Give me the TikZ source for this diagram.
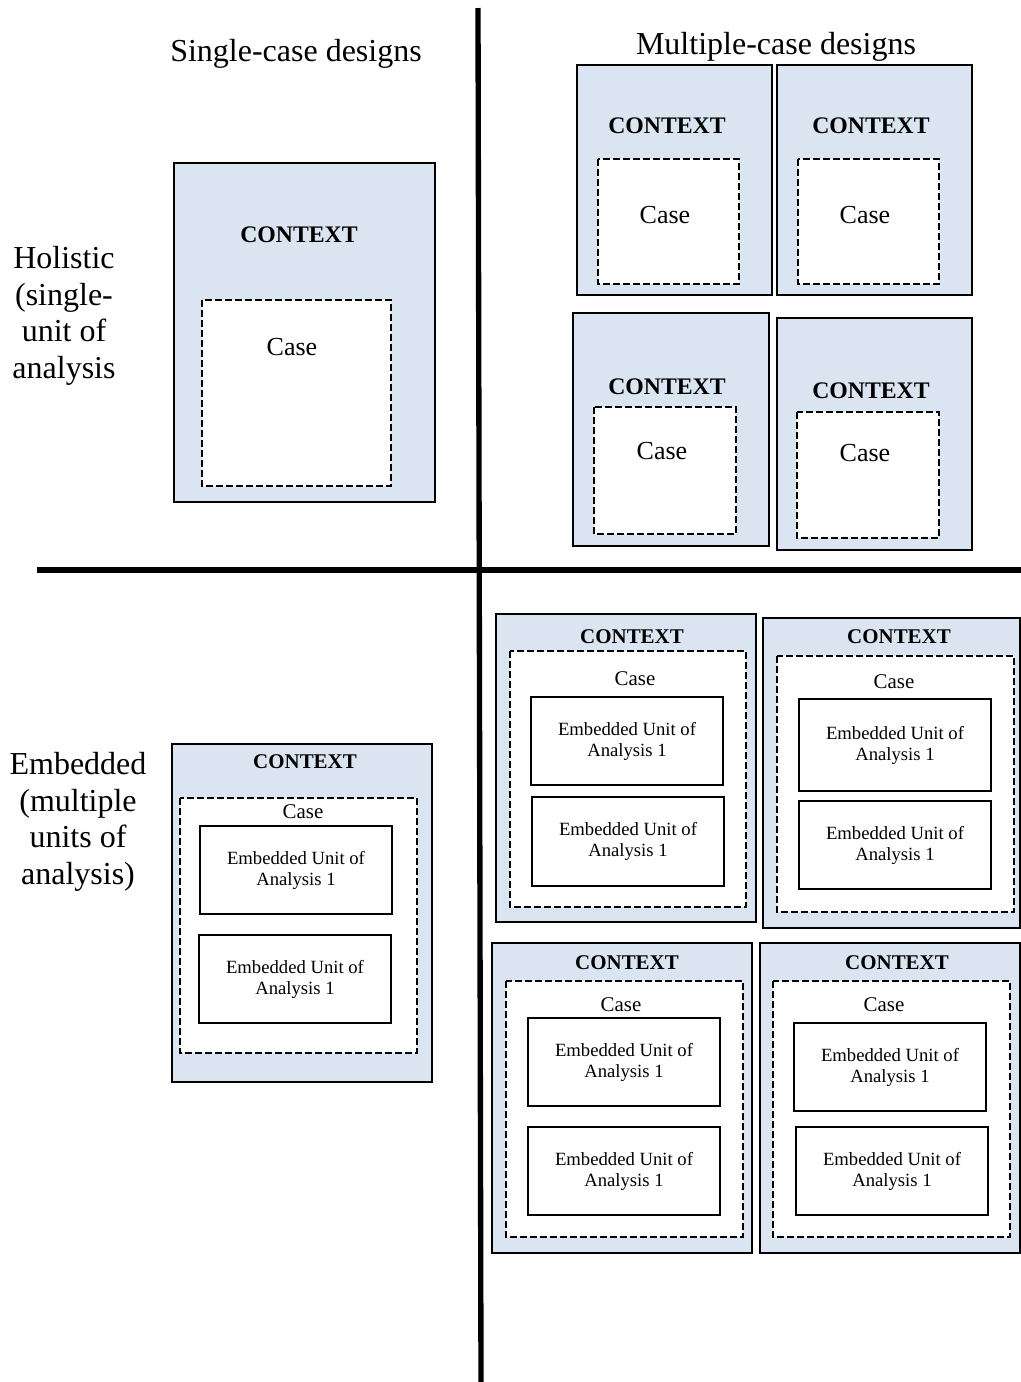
\documentclass[tikz,border=0pt]{standalone}
\usepackage{fontspec}
\setmainfont{Liberation Serif}
\definecolor{ctxblue}{HTML}{DBE5F1}

\begin{document}
\begin{tikzpicture}[x=0.75pt, y=-0.75pt,
    axis/.style={line width=4pt},
    ctxbox/.style={draw, line width=1.5pt, fill=ctxblue},
    casebox/.style={draw, line width=1.4pt, fill=white, dash pattern=on 5pt off 2.5pt},
    unitbox/.style={draw, line width=1.1pt, fill=white},
    header/.style={font=\fontsize{24}{28}\selectfont},
    rowlabel/.style={align=center, font=\fontsize{24}{27.5}\selectfont},
    ctxbig/.style={font=\fontsize{17.8}{20}\selectfont\bfseries},
    ctxsmall/.style={font=\fontsize{15.7}{18}\selectfont\bfseries},
    casebig/.style={font=\fontsize{19.5}{22}\selectfont},
    casesmall/.style={font=\fontsize{15.7}{18}\selectfont},
    unit/.style={align=center, font=\fontsize{14}{15.75}\selectfont}]
    \useasboundingbox (0,0) rectangle (1021,1382);

    % quadrant lines
    \coordinate (vtop) at (478,8);
    \coordinate (vbot) at (481,1382);
    \coordinate (hleft) at (37,570);
    \coordinate (hright) at (1021,570);
    \draw[axis] (vtop) -- (vbot);
    \draw[axis] (hleft) -- (hright);

    \node[header] (hdsingle) at (296,54) {Single-case designs};
    \node[header] (hdmulti) at (776,47) {Multiple-case designs};
    \node[rowlabel] (lblholistic) at (64,316) {Holistic\\(single-\\unit of\\analysis};
    \node[rowlabel] (lblembedded) at (78,822) {Embedded\\(multiple\\units of\\analysis)};

    % holistic, single case
    \draw[ctxbox] (174,163) rectangle (435,502);
    \draw[casebox] (202,300) rectangle (391,486);
    \node[ctxbig] (ctxhs) at (299,235) {CONTEXT};
    \node[casebig] (casehs) at (292,347) {Case};

    % holistic, multiple cases
    \draw[ctxbox] (577,65) rectangle (772,295);
    \draw[casebox] (598,159) rectangle (739,284);
    \node[ctxbig] (ctxhma) at (667,126) {CONTEXT};
    \node[casebig] (casehma) at (665,215) {Case};

    \draw[ctxbox] (777,65) rectangle (972,295);
    \draw[casebox] (798,159) rectangle (939,284);
    \node[ctxbig] (ctxhmb) at (871,126) {CONTEXT};
    \node[casebig] (casehmb) at (865,215) {Case};

    \draw[ctxbox] (573,313) rectangle (769,546);
    \draw[casebox] (594,407) rectangle (736,534);
    \node[ctxbig] (ctxhmc) at (667,387) {CONTEXT};
    \node[casebig] (casehmc) at (662,451) {Case};

    \draw[ctxbox] (777,318) rectangle (972,550);
    \draw[casebox] (797,412) rectangle (939,538);
    \node[ctxbig] (ctxhmd) at (871,391) {CONTEXT};
    \node[casebig] (casehmd) at (865,453) {Case};

    % embedded, single case
    \draw[ctxbox] (172,744) rectangle (432,1082);
    \draw[casebox] (180,798) rectangle (417,1053);
    \draw[unitbox] (200,826) rectangle (392,914);
    \draw[unitbox] (199,935) rectangle (391,1023);
    \node[ctxsmall] (ctxes) at (305,762) {CONTEXT};
    \node[casesmall] (casees) at (303,812) {Case};
    \node[unit] (unites1) at (296,870) {Embedded Unit of\\Analysis 1};
    \node[unit] (unites2) at (295,979) {Embedded Unit of\\Analysis 1};

    % embedded, multiple cases
    \draw[ctxbox] (496,614) rectangle (756,922);
    \draw[casebox] (510,651) rectangle (746,907);
    \draw[unitbox] (531,697) rectangle (723,785);
    \draw[unitbox] (532,797) rectangle (724,886);
    \node[ctxsmall] (ctxema) at (632,637) {CONTEXT};
    \node[casesmall] (caseema) at (635,679) {Case};
    \node[unit] (unitema1) at (627,741) {Embedded Unit of\\Analysis 1};
    \node[unit] (unitema2) at (628,841) {Embedded Unit of\\Analysis 1};

    \draw[ctxbox] (763,618) rectangle (1020,928);
    \draw[casebox] (777,656) rectangle (1014,912);
    \draw[unitbox] (799,699) rectangle (991,791);
    \draw[unitbox] (799,801) rectangle (991,889);
    \node[ctxsmall] (ctxemb) at (899,637) {CONTEXT};
    \node[casesmall] (caseemb) at (894,682) {Case};
    \node[unit] (unitemb1) at (895,745) {Embedded Unit of\\Analysis 1};
    \node[unit] (unitemb2) at (895,845) {Embedded Unit of\\Analysis 1};

    \draw[ctxbox] (492,943) rectangle (752,1253);
    \draw[casebox] (506,981) rectangle (743,1237);
    \draw[unitbox] (528,1018) rectangle (720,1106);
    \draw[unitbox] (528,1127) rectangle (720,1215);
    \node[ctxsmall] (ctxemc) at (627,963) {CONTEXT};
    \node[casesmall] (caseemc) at (621,1005) {Case};
    \node[unit] (unitemc1) at (624,1062) {Embedded Unit of\\Analysis 1};
    \node[unit] (unitemc2) at (624,1171) {Embedded Unit of\\Analysis 1};

    \draw[ctxbox] (760,943) rectangle (1020,1253);
    \draw[casebox] (773,981) rectangle (1010,1237);
    \draw[unitbox] (794,1023) rectangle (986,1111);
    \draw[unitbox] (796,1127) rectangle (988,1215);
    \node[ctxsmall] (ctxemd) at (897,963) {CONTEXT};
    \node[casesmall] (caseemd) at (884,1005) {Case};
    \node[unit] (unitemd1) at (890,1067) {Embedded Unit of\\Analysis 1};
    \node[unit] (unitemd2) at (892,1171) {Embedded Unit of\\Analysis 1};
  \end{tikzpicture}
\end{document}
